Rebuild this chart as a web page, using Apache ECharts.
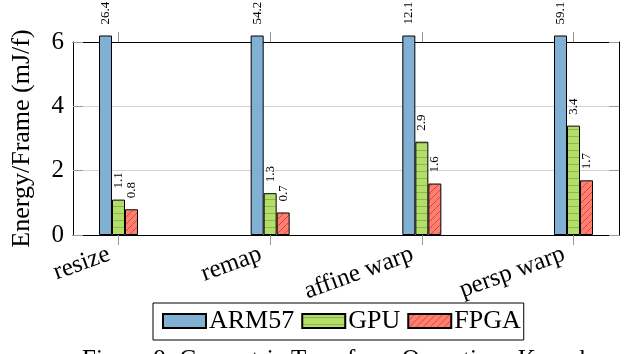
<!DOCTYPE html>
<html>
<head>
<meta charset="utf-8">
<script src="https://cdn.jsdelivr.net/npm/echarts@6/dist/echarts.min.js"></script>
<style>
  html, body { margin: 0; padding: 0; background: #fff; }
  #chart { width: 625px; height: 354px; }
</style>
</head>
<body>
<div id="chart"></div>
<script>
// Energy per frame of each geometric-transform kernel on three platforms
const categories = ['resize', 'remap', 'affine warp', 'persp warp'];
const arm57 = [26.4, 54.2, 12.1, 59.1];
const gpu = [1.1, 1.3, 2.9, 3.4];
const fpga = [0.8, 0.7, 1.6, 1.7];
const seriesNames = ['ARM57', 'GPU', 'FPGA'];
const yTicks = [0, 2, 4, 6];

const FONT = "'Liberation Serif', 'Times New Roman', serif";

// Fill patterns: plain, horizontal lines, north-east lines
function hLinePattern(bg, fg) {
  const c = document.createElement('canvas');
  c.width = 8; c.height = 7;
  const g = c.getContext('2d');
  g.fillStyle = bg; g.fillRect(0, 0, 8, 7);
  g.strokeStyle = fg; g.lineWidth = 1;
  g.beginPath(); g.moveTo(0, 3.5); g.lineTo(8, 3.5); g.stroke();
  return { image: c, repeat: 'repeat' };
}
function neLinePattern(bg, fg) {
  const c = document.createElement('canvas');
  c.width = 7; c.height = 7;
  const g = c.getContext('2d');
  g.fillStyle = bg; g.fillRect(0, 0, 7, 7);
  g.strokeStyle = fg; g.lineWidth = 0.9;
  g.beginPath();
  g.moveTo(-1, 8); g.lineTo(8, -1);
  g.moveTo(-1, 1); g.lineTo(1, -1);
  g.moveTo(6, 8); g.lineTo(8, 6);
  g.stroke();
  return { image: c, repeat: 'repeat' };
}

const fills = [
  '#80b1d3',
  hLinePattern('#b3de69', '#8fb84c'),
  neLinePattern('#fb8072', '#e8392c')
];

const X_MIN = -0.3, X_MAX = 3.3;
const Y_MAX = 6;
// bar layer extends a few pixels above the frame (bars taller than the axis are cut there)
const FRAME_TOP = 42, BAR_TOP = 36, FRAME_BOTTOM = 235;
const BAR_Y_MAX = Y_MAX * (FRAME_BOTTOM - BAR_TOP) / (FRAME_BOTTOM - FRAME_TOP);

const tickIdx = categories.map((_, i) => i);

function makeSeries(name, values, fill) {
  return {
    name: name,
    type: 'bar',
    xAxisIndex: 2,
    yAxisIndex: 2,
    barWidth: 13,
    barGap: '0%',
    clip: true,
    data: values.map((v, i) => [i, v]),
    itemStyle: { color: fill, borderColor: '#000', borderWidth: 1 },
    label: {
      show: true,
      position: 'top',
      rotate: 90,
      align: 'left',
      verticalAlign: 'middle',
      distance: 11,
      fontFamily: FONT,
      fontSize: 13,
      color: '#000',
      formatter: p => String(p.value[1])
    }
  };
}

const frameLine = { show: true, onZero: false, lineStyle: { color: '#000', width: 1 } };
const tickStyle = { color: '#999', width: 1 };

const chart = echarts.init(document.getElementById('chart'), null, { renderer: 'canvas' });

chart.setOption({
  animation: false,
  textStyle: { fontFamily: FONT },
  grid: [
    { left: 73, right: 6, top: FRAME_TOP, bottom: 354 - FRAME_BOTTOM },
    { left: 73, right: 6, top: BAR_TOP, bottom: 354 - FRAME_BOTTOM }
  ],
  xAxis: [
    {
      gridIndex: 0, type: 'value', position: 'bottom', min: X_MIN, max: X_MAX,
      axisLine: frameLine,
      axisTick: { show: true, customValues: tickIdx, inside: false, length: 10, lineStyle: tickStyle },
      axisLabel: {
        show: true, customValues: tickIdx, rotate: 20, margin: 15,
        padding: [0, 10, 0, 0],
        fontFamily: FONT, fontSize: 25, color: '#000',
        formatter: v => categories[Math.round(v)] || ''
      },
      splitLine: { show: false }
    },
    {
      gridIndex: 0, type: 'value', position: 'top', min: X_MIN, max: X_MAX,
      axisLine: frameLine,
      axisTick: { show: true, customValues: tickIdx, inside: false, length: 10, lineStyle: tickStyle },
      axisLabel: { show: false },
      splitLine: { show: false }
    },
    {
      gridIndex: 1, type: 'value', min: X_MIN, max: X_MAX, show: false
    }
  ],
  yAxis: [
    {
      gridIndex: 0, type: 'value', position: 'left', min: 0, max: Y_MAX, interval: 2,
      name: 'Energy/Frame (mJ/f)', nameLocation: 'middle', nameGap: 38, nameRotate: 90,
      nameTextStyle: { fontFamily: FONT, fontSize: 26, color: '#000' },
      axisLine: frameLine,
      axisTick: { show: true, inside: true, length: 10, lineStyle: tickStyle },
      axisLabel: {
        show: true, margin: 9, fontFamily: FONT, fontSize: 25, color: '#000',
        customValues: yTicks
      },
      splitLine: { show: true, lineStyle: { color: '#d4d4d4', width: 1 } }
    },
    {
      gridIndex: 0, type: 'value', position: 'right', min: 0, max: Y_MAX, interval: 2,
      axisLine: frameLine,
      axisTick: { show: true, inside: true, length: 10, lineStyle: tickStyle },
      axisLabel: { show: false },
      splitLine: { show: false }
    },
    {
      gridIndex: 1, type: 'value', min: 0, max: BAR_Y_MAX, show: false, splitLine: { show: false }
    }
  ],
  legend: {
    data: seriesNames,
    left: 153,
    top: 303,
    orient: 'horizontal',
    icon: 'rect',
    itemWidth: 43,
    itemHeight: 14,
    itemGap: 7,
    padding: [5, 3, 6, 9],
    borderColor: '#000',
    borderWidth: 1,
    borderRadius: 0,
    textStyle: { fontFamily: FONT, fontSize: 26, color: '#000', padding: [0, 0, 0, -2] }
  },
  graphic: [
    {
      type: 'text',
      left: 82,
      top: 348,
      style: {
        text: 'Figure 9: Geometric Transform Operations Kernels',
        font: "25px 'Liberation Serif', 'Times New Roman', serif",
        fill: '#000'
      }
    }
  ],
  series: [
    makeSeries(seriesNames[0], arm57, fills[0]),
    makeSeries(seriesNames[1], gpu, fills[1]),
    makeSeries(seriesNames[2], fpga, fills[2])
  ]
});
</script>
</body>
</html>
